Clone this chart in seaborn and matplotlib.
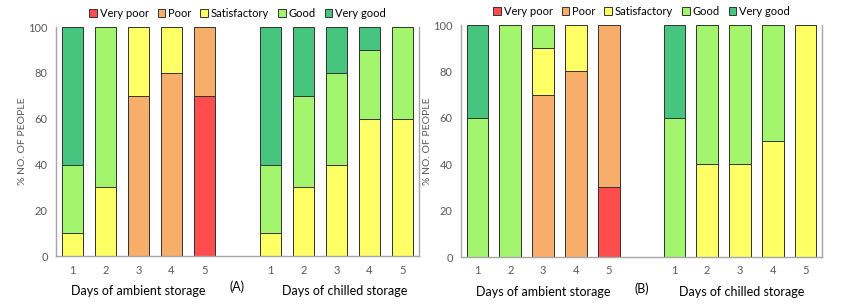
import numpy as np
import pandas as pd
import matplotlib.pyplot as plt
import seaborn as sns

# rating levels, bottom -> top of each stacked bar
levels = ['Very poor', 'Poor', 'Satisfactory', 'Good', 'Very good']
colors = ['#FF4D4D', '#F8AE6B', '#FFFF66', '#A3F56E', '#47C57F']
day_labels = ['1', '2', '3', '4', '5']

# % of people per day (1-5), values in the order of `levels`
a_ambient = [[0, 0, 10, 30, 60], [0, 0, 30, 70, 0], [0, 70, 30, 0, 0],
             [0, 80, 20, 0, 0], [70, 30, 0, 0, 0]]
a_chilled = [[0, 0, 10, 30, 60], [0, 0, 30, 40, 30], [0, 0, 40, 40, 20],
             [0, 0, 60, 30, 10], [0, 0, 60, 40, 0]]
b_ambient = [[0, 0, 0, 60, 40], [0, 0, 0, 100, 0], [0, 70, 20, 10, 0],
             [0, 80, 20, 0, 0], [30, 70, 0, 0, 0]]
b_chilled = [[0, 0, 0, 60, 40], [0, 0, 40, 60, 0], [0, 0, 40, 60, 0],
             [0, 0, 50, 50, 0], [0, 0, 100, 0, 0]]

sns.set_theme(style='white')
plt.rcParams['font.family'] = ['Lato', 'DejaVu Sans']
txt = '#595959'

order = ['a1', 'a2', 'a3', 'a4', 'a5', 'gap', 'c1', 'c2', 'c3', 'c4', 'c5']


def make_df(ambient, chilled):
    rows = []
    for prefix, data in [('a', ambient), ('c', chilled)]:
        for d, vals in enumerate(data):
            cum = np.cumsum(vals)
            for lvl, v, c in zip(levels, vals, cum):
                if v > 0:
                    rows.append((f'{prefix}{d + 1}', lvl, c))
    return pd.DataFrame(rows, columns=['slot', 'rating', 'cum'])


def draw(ax, ambient, chilled, tag, chilled_x):
    df = make_df(ambient, chilled)
    # tallest (cumulative) layer first, lower layers drawn over it
    for lvl, col in reversed(list(zip(levels, colors))):
        sub = df[df['rating'] == lvl]
        sns.barplot(data=sub, x='slot', y='cum', order=order, color=col,
                    width=0.66, edgecolor='#333333', linewidth=0.7,
                    errorbar=None, label=lvl, ax=ax, saturation=1)
    ax.set_xlim(-0.5, 10.5)
    ax.set_ylim(0, 100)
    ax.set_yticks(range(0, 101, 20))
    ax.set_xticks(range(11))
    ax.set_xticklabels(day_labels + [''] + day_labels)
    ax.tick_params(length=0, labelsize=8, colors=txt, pad=6)
    ax.set_xlabel('')
    ax.set_ylabel('% NO. OF PEOPLE', fontsize=7.5, color=txt, labelpad=1)
    for s in ['left', 'right', 'bottom']:
        ax.spines[s].set_color('#A6A6A6')
        ax.spines[s].set_linewidth(1)
    ax.spines['top'].set_visible(False)
    tr = ax.get_xaxis_transform()
    ax.text(2, -0.15, 'Days of ambient storage', transform=tr, ha='center',
            va='center', fontsize=9, color='black')
    ax.text(chilled_x, -0.15, 'Days of chilled storage', transform=tr,
            ha='center', va='center', fontsize=9, color='black')
    ax.text(5, -0.135, tag, transform=tr, ha='center', va='center',
            fontsize=9, color='black')
    h, l = ax.get_legend_handles_labels()
    idx = [l.index(x) for x in levels]
    ax.legend([h[i] for i in idx], levels, loc='lower center',
              bbox_to_anchor=(0.5, 1.0), ncol=5, frameon=False,
              fontsize=8, handlelength=0.7, handleheight=0.7,
              handletextpad=0.25, columnspacing=0.8, borderaxespad=0.35,
              labelcolor='black')


fig = plt.figure(figsize=(8.43, 3.05), dpi=100)
ax1 = fig.add_axes([0.0664, 0.160, 0.4306, 0.751])
ax2 = fig.add_axes([0.5469, 0.157, 0.4282, 0.761])
draw(ax1, a_ambient, a_chilled, '(A)', 8.25)
draw(ax2, b_ambient, b_chilled, '(B)', 8.05)

fig.savefig('out.png', dpi=100)
